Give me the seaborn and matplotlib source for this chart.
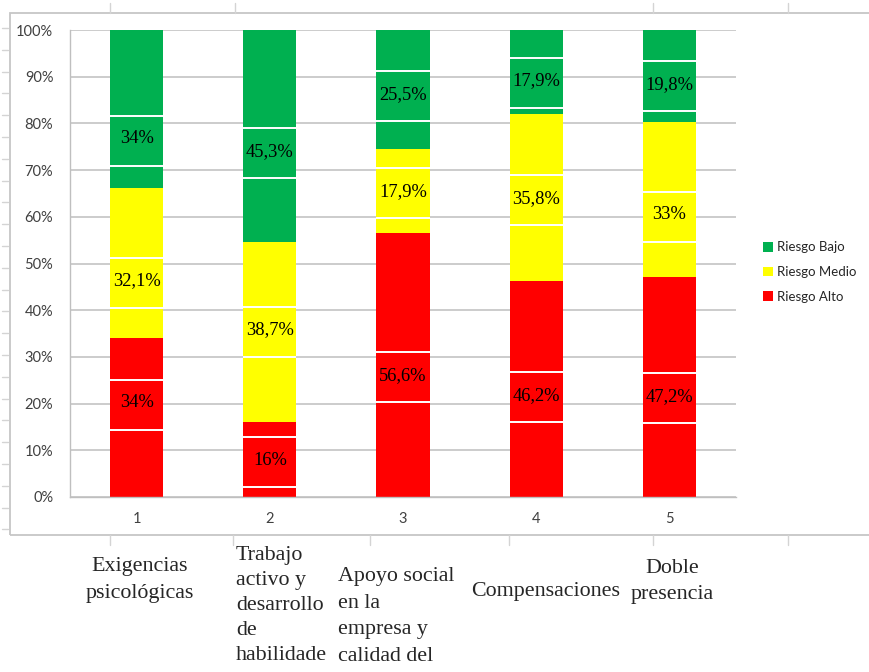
import numpy as np
import pandas as pd
import matplotlib
matplotlib.use("Agg")
import matplotlib.pyplot as plt
from matplotlib.patches import Rectangle
from matplotlib.lines import Line2D
import seaborn as sns

# ---- data -------------------------------------------------------------
categories = ["1", "2", "3", "4", "5"]
riesgo_alto = [34.0, 16.0, 56.6, 46.2, 47.2]
riesgo_medio = [32.1, 38.7, 17.9, 35.8, 33.0]
riesgo_bajo = [34.0, 45.3, 25.5, 17.9, 19.8]
series_names = ["Riesgo Alto", "Riesgo Medio", "Riesgo Bajo"]
dimension_names = [
    "Exigencias\npsicológicas",
    "Trabajo\nactivo y\ndesarrollo\nde\nhabilidade",
    "Apoyo social\nen la\nempresa y\ncalidad del",
    "Compensaciones",
    "Doble\npresencia",
]
y_ticks = list(range(0, 101, 10))

# ---- layout / style ---------------------------------------------------
colors = ["#FF0000", "#FFFF00", "#00B050"]
# shift of each value box from the middle of its segment (percentage points)
box_shift = [
    [2.8, -0.5, -2.6, -1.7, -2.5],
    [-4.15, 0.05, -0.45, -0.5, -3.7],
    [-6.8, -3.75, -1.45, -2.25, -2.1],
]
box_half = 5.35
bar_w = 0.4
W, H = 870, 672

sns.set_style("white")
plt.rcParams["font.family"] = ["Lato", "DejaVu Sans"]

fig = plt.figure(figsize=(W / 100, H / 100), dpi=100)
ax = fig.add_axes([70 / W, 1 - 497 / H, 666 / W, 467 / H])

df = pd.DataFrame({
    "dim": categories,
    "alto": riesgo_alto,
    "medio": riesgo_medio,
    "bajo": riesgo_bajo,
})
cols = ["alto", "medio", "bajo"]

bottom = np.zeros(len(categories))
bottoms = []
for col, name, color in zip(cols, series_names, colors):
    bottoms.append(bottom.copy())
    sns.barplot(data=df, x="dim", y=col, bottom=bottom.copy(), color=color,
                saturation=1, width=bar_w, label=name, ax=ax, zorder=2,
                linewidth=0)
    bottom = bottom + df[col].to_numpy()

# value boxes with white borders and their labels
for k, col in enumerate(cols):
    vals = df[col].to_numpy()
    for i, v in enumerate(vals):
        yc = bottoms[k][i] + v / 2 + box_shift[k][i]
        ax.hlines([yc - box_half, yc + box_half], i - bar_w / 2, i + bar_w / 2,
                  colors="white", lw=1.4, zorder=3)
        txt = f"{v:g}".replace(".", ",") + "%"
        ax.text(i, yc + 0.4, txt, ha="center", va="center", fontsize=13.3,
                family="Liberation Serif", color="black", zorder=4)

# axes styling
ax.set_xlim(-0.5, len(categories) - 0.5)
ax.set_ylim(0, 100)
ax.set_yticks(y_ticks)
ax.set_yticklabels([f"{t}%" for t in y_ticks])
ax.set_xlabel("")
ax.set_ylabel("")
ax.yaxis.grid(True, color="#c4c4c4", lw=1.2, zorder=0)
ax.xaxis.grid(False)
ax.set_axisbelow(True)
for s in ["top", "right"]:
    ax.spines[s].set_visible(False)
for s in ["left", "bottom"]:
    ax.spines[s].set_color("#bfbfbf")
    ax.spines[s].set_linewidth(1.0)
ax.set_xticks(np.arange(-0.5, len(categories), 1), minor=True)
ax.tick_params(axis="x", which="major", length=0, pad=11, labelsize=10.5,
               labelcolor="#404040")
ax.tick_params(axis="x", which="minor", length=4.5, color="#bfbfbf", width=1)
ax.tick_params(axis="y", which="major", length=4, color="#bfbfbf", width=1,
               pad=8, labelsize=10.5, labelcolor="#404040")

handles, labels = ax.get_legend_handles_labels()
ax.legend(handles[::-1], labels[::-1], loc="center left",
          bbox_to_anchor=(751 / W, 1 - 272 / H), bbox_transform=fig.transFigure,
          frameon=False, handlelength=0.75, handleheight=0.75,
          handletextpad=0.35, labelspacing=0.95,
          prop={"family": "Lato", "size": 9.5})

# outer chart frame
fig.patches.append(Rectangle((10 / W, 1 - 535 / H), 1.0, (535 - 13) / H,
                             transform=fig.transFigure, fill=False,
                             edgecolor="#c6c6c6", lw=1.3))
# sheet column and row marks around the frame
for x in [110, 235, 653, 788]:
    fig.lines.append(Line2D([x / W, x / W], [1 - 3 / H, 1 - 13 / H],
                            transform=fig.transFigure, color="#d4d4d4", lw=1))
for x in [110, 233, 370, 509, 653, 788]:
    fig.lines.append(Line2D([x / W, x / W], [1 - 535 / H, 1 - 545 / H],
                            transform=fig.transFigure, color="#d4d4d4", lw=1))
for y in np.arange(28, 530, 21.8):
    fig.lines.append(Line2D([2 / W, 8 / W], [1 - y / H, 1 - y / H],
                            transform=fig.transFigure, color="#d4d4d4", lw=1))

# dimension names under the chart
serif = "Liberation Serif"
name_fs = 15.8
fig.text(140 / W, 1 - 557 / H, dimension_names[0], ha="center", va="top",
         family=serif, fontsize=name_fs, linespacing=1.56, multialignment="center")
fig.text(236 / W, 1 - 546 / H, dimension_names[1], ha="left", va="top",
         family=serif, fontsize=name_fs, linespacing=1.42)
fig.text(338 / W, 1 - 567 / H, dimension_names[2], ha="left", va="top",
         family=serif, fontsize=name_fs, linespacing=1.54)
fig.text(471 / W, 1 - 582 / H, dimension_names[3], ha="left", va="top",
         family=serif, fontsize=name_fs)
fig.text(672 / W, 1 - 559 / H, dimension_names[4], ha="center", va="top",
         family=serif, fontsize=name_fs, linespacing=1.5, multialignment="center")

fig.savefig("out.png", dpi=100, facecolor="white")
